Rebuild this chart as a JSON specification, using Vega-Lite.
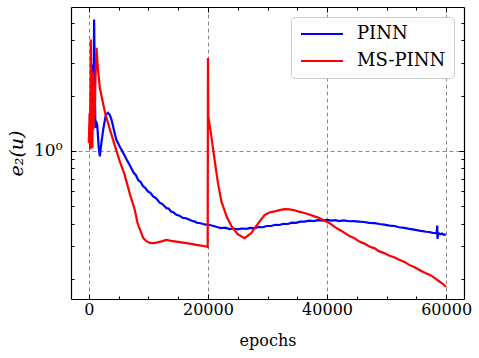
{
  "$schema": "https://vega.github.io/schema/vega-lite/v6.json",
  "width": 393,
  "height": 292,
  "autosize": "none",
  "padding": {"left": 71, "top": 7, "right": 15, "bottom": 59},
  "background": "white",
  "config": {
    "view": {"stroke": null},
    "font": "DejaVu Serif",
    "axis": {
      "domainColor": "black",
      "domainWidth": 1.2,
      "tickColor": "black",
      "tickWidth": 1,
      "labelColor": "black",
      "titleColor": "black",
      "labelFont": "DejaVu Serif",
      "titleFont": "DejaVu Serif",
      "labelFontSize": 16,
      "titleFontSize": 16,
      "titleFontWeight": "normal",
      "grid": false
    },
    "legend": {"labelFont": "DejaVu Serif"}
  },
  "data": {
    "values": [
      {"epoch": 0, "err": 1.15, "model": "PINN"},
      {"epoch": 200, "err": 1.4, "model": "PINN"},
      {"epoch": 400, "err": 2.2, "model": "PINN"},
      {"epoch": 620, "err": 2.95, "model": "PINN"},
      {"epoch": 700, "err": 1.75, "model": "PINN"},
      {"epoch": 800, "err": 2.6, "model": "PINN"},
      {"epoch": 880, "err": 5.2, "model": "PINN"},
      {"epoch": 960, "err": 3.0, "model": "PINN"},
      {"epoch": 1100, "err": 1.33, "model": "PINN"},
      {"epoch": 1200, "err": 1.45, "model": "PINN"},
      {"epoch": 1290, "err": 1.42, "model": "PINN"},
      {"epoch": 1400, "err": 1.38, "model": "PINN"},
      {"epoch": 1460, "err": 1.3, "model": "PINN"},
      {"epoch": 1650, "err": 1.05, "model": "PINN"},
      {"epoch": 1840, "err": 0.93, "model": "PINN"},
      {"epoch": 2100, "err": 1.1, "model": "PINN"},
      {"epoch": 2400, "err": 1.3, "model": "PINN"},
      {"epoch": 2850, "err": 1.57, "model": "PINN"},
      {"epoch": 3200, "err": 1.61, "model": "PINN"},
      {"epoch": 3500, "err": 1.57, "model": "PINN"},
      {"epoch": 3800, "err": 1.48, "model": "PINN"},
      {"epoch": 4200, "err": 1.3, "model": "PINN"},
      {"epoch": 4600, "err": 1.15, "model": "PINN"},
      {"epoch": 5200, "err": 1.05, "model": "PINN"},
      {"epoch": 5750, "err": 0.975, "model": "PINN"},
      {"epoch": 6300, "err": 0.9, "model": "PINN"},
      {"epoch": 6900, "err": 0.83, "model": "PINN"},
      {"epoch": 7500, "err": 0.76, "model": "PINN"},
      {"epoch": 7900, "err": 0.735, "model": "PINN"},
      {"epoch": 8300, "err": 0.69, "model": "PINN"},
      {"epoch": 8700, "err": 0.675, "model": "PINN"},
      {"epoch": 9100, "err": 0.64, "model": "PINN"},
      {"epoch": 9500, "err": 0.625, "model": "PINN"},
      {"epoch": 9900, "err": 0.6, "model": "PINN"},
      {"epoch": 10300, "err": 0.59, "model": "PINN"},
      {"epoch": 10800, "err": 0.563, "model": "PINN"},
      {"epoch": 11300, "err": 0.55, "model": "PINN"},
      {"epoch": 11900, "err": 0.52, "model": "PINN"},
      {"epoch": 12400, "err": 0.51, "model": "PINN"},
      {"epoch": 13000, "err": 0.486, "model": "PINN"},
      {"epoch": 13400, "err": 0.483, "model": "PINN"},
      {"epoch": 13800, "err": 0.466, "model": "PINN"},
      {"epoch": 14200, "err": 0.462, "model": "PINN"},
      {"epoch": 14700, "err": 0.447, "model": "PINN"},
      {"epoch": 15200, "err": 0.442, "model": "PINN"},
      {"epoch": 15800, "err": 0.43, "model": "PINN"},
      {"epoch": 16300, "err": 0.428, "model": "PINN"},
      {"epoch": 16900, "err": 0.42, "model": "PINN"},
      {"epoch": 17400, "err": 0.413, "model": "PINN"},
      {"epoch": 17800, "err": 0.41, "model": "PINN"},
      {"epoch": 18200, "err": 0.404, "model": "PINN"},
      {"epoch": 18600, "err": 0.403, "model": "PINN"},
      {"epoch": 19200, "err": 0.398, "model": "PINN"},
      {"epoch": 19700, "err": 0.395, "model": "PINN"},
      {"epoch": 20300, "err": 0.393, "model": "PINN"},
      {"epoch": 20800, "err": 0.389, "model": "PINN"},
      {"epoch": 21500, "err": 0.383, "model": "PINN"},
      {"epoch": 22200, "err": 0.378, "model": "PINN"},
      {"epoch": 22900, "err": 0.38, "model": "PINN"},
      {"epoch": 23600, "err": 0.373, "model": "PINN"},
      {"epoch": 24300, "err": 0.376, "model": "PINN"},
      {"epoch": 25000, "err": 0.372, "model": "PINN"},
      {"epoch": 25700, "err": 0.376, "model": "PINN"},
      {"epoch": 26400, "err": 0.374, "model": "PINN"},
      {"epoch": 27100, "err": 0.379, "model": "PINN"},
      {"epoch": 27800, "err": 0.377, "model": "PINN"},
      {"epoch": 28500, "err": 0.383, "model": "PINN"},
      {"epoch": 29200, "err": 0.382, "model": "PINN"},
      {"epoch": 29900, "err": 0.388, "model": "PINN"},
      {"epoch": 30600, "err": 0.388, "model": "PINN"},
      {"epoch": 31300, "err": 0.394, "model": "PINN"},
      {"epoch": 32000, "err": 0.393, "model": "PINN"},
      {"epoch": 32700, "err": 0.399, "model": "PINN"},
      {"epoch": 33400, "err": 0.398, "model": "PINN"},
      {"epoch": 34100, "err": 0.405, "model": "PINN"},
      {"epoch": 34800, "err": 0.404, "model": "PINN"},
      {"epoch": 35500, "err": 0.41, "model": "PINN"},
      {"epoch": 36200, "err": 0.41, "model": "PINN"},
      {"epoch": 37000, "err": 0.415, "model": "PINN"},
      {"epoch": 37700, "err": 0.413, "model": "PINN"},
      {"epoch": 38500, "err": 0.418, "model": "PINN"},
      {"epoch": 39300, "err": 0.415, "model": "PINN"},
      {"epoch": 40000, "err": 0.419, "model": "PINN"},
      {"epoch": 40700, "err": 0.415, "model": "PINN"},
      {"epoch": 41400, "err": 0.418, "model": "PINN"},
      {"epoch": 42000, "err": 0.413, "model": "PINN"},
      {"epoch": 42800, "err": 0.416, "model": "PINN"},
      {"epoch": 43700, "err": 0.412, "model": "PINN"},
      {"epoch": 44500, "err": 0.413, "model": "PINN"},
      {"epoch": 45400, "err": 0.41, "model": "PINN"},
      {"epoch": 46200, "err": 0.408, "model": "PINN"},
      {"epoch": 47100, "err": 0.404, "model": "PINN"},
      {"epoch": 48000, "err": 0.402, "model": "PINN"},
      {"epoch": 48800, "err": 0.398, "model": "PINN"},
      {"epoch": 49600, "err": 0.395, "model": "PINN"},
      {"epoch": 50500, "err": 0.39, "model": "PINN"},
      {"epoch": 51300, "err": 0.388, "model": "PINN"},
      {"epoch": 52100, "err": 0.382, "model": "PINN"},
      {"epoch": 53000, "err": 0.379, "model": "PINN"},
      {"epoch": 53800, "err": 0.374, "model": "PINN"},
      {"epoch": 54600, "err": 0.371, "model": "PINN"},
      {"epoch": 55500, "err": 0.366, "model": "PINN"},
      {"epoch": 56100, "err": 0.364, "model": "PINN"},
      {"epoch": 56600, "err": 0.361, "model": "PINN"},
      {"epoch": 57200, "err": 0.36, "model": "PINN"},
      {"epoch": 57700, "err": 0.356, "model": "PINN"},
      {"epoch": 58400, "err": 0.355, "model": "PINN"},
      {"epoch": 58500, "err": 0.39, "model": "PINN"},
      {"epoch": 58560, "err": 0.33, "model": "PINN"},
      {"epoch": 58650, "err": 0.356, "model": "PINN"},
      {"epoch": 59000, "err": 0.35, "model": "PINN"},
      {"epoch": 59300, "err": 0.353, "model": "PINN"},
      {"epoch": 59600, "err": 0.347, "model": "PINN"},
      {"epoch": 59950, "err": 0.349, "model": "PINN"},
      {"epoch": 0, "err": 1.1, "model": "MS-PINN"},
      {"epoch": 120, "err": 1.6, "model": "MS-PINN"},
      {"epoch": 220, "err": 1.02, "model": "MS-PINN"},
      {"epoch": 335, "err": 4.05, "model": "MS-PINN"},
      {"epoch": 420, "err": 1.15, "model": "MS-PINN"},
      {"epoch": 500, "err": 2.3, "model": "MS-PINN"},
      {"epoch": 590, "err": 1.03, "model": "MS-PINN"},
      {"epoch": 680, "err": 2.7, "model": "MS-PINN"},
      {"epoch": 770, "err": 1.3, "model": "MS-PINN"},
      {"epoch": 860, "err": 2.1, "model": "MS-PINN"},
      {"epoch": 960, "err": 1.5, "model": "MS-PINN"},
      {"epoch": 1100, "err": 2.4, "model": "MS-PINN"},
      {"epoch": 1290, "err": 3.65, "model": "MS-PINN"},
      {"epoch": 1500, "err": 2.85, "model": "MS-PINN"},
      {"epoch": 1844, "err": 2.2, "model": "MS-PINN"},
      {"epoch": 2700, "err": 1.62, "model": "MS-PINN"},
      {"epoch": 3520, "err": 1.31, "model": "MS-PINN"},
      {"epoch": 4350, "err": 1.07, "model": "MS-PINN"},
      {"epoch": 5196, "err": 0.875, "model": "MS-PINN"},
      {"epoch": 6000, "err": 0.74, "model": "MS-PINN"},
      {"epoch": 6870, "err": 0.583, "model": "MS-PINN"},
      {"epoch": 7710, "err": 0.476, "model": "MS-PINN"},
      {"epoch": 8162, "err": 0.404, "model": "MS-PINN"},
      {"epoch": 8600, "err": 0.37, "model": "MS-PINN"},
      {"epoch": 9101, "err": 0.335, "model": "MS-PINN"},
      {"epoch": 9600, "err": 0.322, "model": "MS-PINN"},
      {"epoch": 10224, "err": 0.314, "model": "MS-PINN"},
      {"epoch": 10800, "err": 0.313, "model": "MS-PINN"},
      {"epoch": 11347, "err": 0.315, "model": "MS-PINN"},
      {"epoch": 12200, "err": 0.32, "model": "MS-PINN"},
      {"epoch": 13023, "err": 0.326, "model": "MS-PINN"},
      {"epoch": 13800, "err": 0.322, "model": "MS-PINN"},
      {"epoch": 14699, "err": 0.319, "model": "MS-PINN"},
      {"epoch": 15500, "err": 0.316, "model": "MS-PINN"},
      {"epoch": 16375, "err": 0.313, "model": "MS-PINN"},
      {"epoch": 17200, "err": 0.31, "model": "MS-PINN"},
      {"epoch": 18051, "err": 0.306, "model": "MS-PINN"},
      {"epoch": 18900, "err": 0.303, "model": "MS-PINN"},
      {"epoch": 19727, "err": 0.3, "model": "MS-PINN"},
      {"epoch": 19950, "err": 0.298, "model": "MS-PINN"},
      {"epoch": 20000, "err": 3.21, "model": "MS-PINN"},
      {"epoch": 20060, "err": 1.54, "model": "MS-PINN"},
      {"epoch": 20564, "err": 1.2, "model": "MS-PINN"},
      {"epoch": 21100, "err": 0.9, "model": "MS-PINN"},
      {"epoch": 21700, "err": 0.66, "model": "MS-PINN"},
      {"epoch": 22250, "err": 0.53, "model": "MS-PINN"},
      {"epoch": 23100, "err": 0.44, "model": "MS-PINN"},
      {"epoch": 24000, "err": 0.385, "model": "MS-PINN"},
      {"epoch": 25000, "err": 0.35, "model": "MS-PINN"},
      {"epoch": 26150, "err": 0.333, "model": "MS-PINN"},
      {"epoch": 27270, "err": 0.355, "model": "MS-PINN"},
      {"epoch": 28400, "err": 0.4, "model": "MS-PINN"},
      {"epoch": 29500, "err": 0.445, "model": "MS-PINN"},
      {"epoch": 30300, "err": 0.46, "model": "MS-PINN"},
      {"epoch": 31200, "err": 0.466, "model": "MS-PINN"},
      {"epoch": 32000, "err": 0.474, "model": "MS-PINN"},
      {"epoch": 32850, "err": 0.48, "model": "MS-PINN"},
      {"epoch": 33700, "err": 0.478, "model": "MS-PINN"},
      {"epoch": 34500, "err": 0.473, "model": "MS-PINN"},
      {"epoch": 35300, "err": 0.465, "model": "MS-PINN"},
      {"epoch": 36200, "err": 0.457, "model": "MS-PINN"},
      {"epoch": 37000, "err": 0.448, "model": "MS-PINN"},
      {"epoch": 37900, "err": 0.438, "model": "MS-PINN"},
      {"epoch": 38716, "err": 0.429, "model": "MS-PINN"},
      {"epoch": 39270, "err": 0.42, "model": "MS-PINN"},
      {"epoch": 40392, "err": 0.403, "model": "MS-PINN"},
      {"epoch": 41200, "err": 0.385, "model": "MS-PINN"},
      {"epoch": 42068, "err": 0.37, "model": "MS-PINN"},
      {"epoch": 42900, "err": 0.357, "model": "MS-PINN"},
      {"epoch": 43700, "err": 0.343, "model": "MS-PINN"},
      {"epoch": 44600, "err": 0.333, "model": "MS-PINN"},
      {"epoch": 45420, "err": 0.319, "model": "MS-PINN"},
      {"epoch": 46300, "err": 0.311, "model": "MS-PINN"},
      {"epoch": 47100, "err": 0.3, "model": "MS-PINN"},
      {"epoch": 48000, "err": 0.293, "model": "MS-PINN"},
      {"epoch": 48772, "err": 0.282, "model": "MS-PINN"},
      {"epoch": 49600, "err": 0.276, "model": "MS-PINN"},
      {"epoch": 50400, "err": 0.268, "model": "MS-PINN"},
      {"epoch": 51300, "err": 0.262, "model": "MS-PINN"},
      {"epoch": 52124, "err": 0.254, "model": "MS-PINN"},
      {"epoch": 53000, "err": 0.247, "model": "MS-PINN"},
      {"epoch": 53800, "err": 0.238, "model": "MS-PINN"},
      {"epoch": 54600, "err": 0.232, "model": "MS-PINN"},
      {"epoch": 55476, "err": 0.224, "model": "MS-PINN"},
      {"epoch": 56000, "err": 0.219, "model": "MS-PINN"},
      {"epoch": 56600, "err": 0.214, "model": "MS-PINN"},
      {"epoch": 57200, "err": 0.21, "model": "MS-PINN"},
      {"epoch": 57706, "err": 0.206, "model": "MS-PINN"},
      {"epoch": 58200, "err": 0.2, "model": "MS-PINN"},
      {"epoch": 58700, "err": 0.195, "model": "MS-PINN"},
      {"epoch": 59200, "err": 0.19, "model": "MS-PINN"},
      {"epoch": 59666, "err": 0.185, "model": "MS-PINN"},
      {"epoch": 59950, "err": 0.18, "model": "MS-PINN"}
    ]
  },
  "layer": [
    {
      "mark": {"type": "line", "strokeWidth": 2.2, "clip": true},
      "encoding": {
        "x": {
          "field": "epoch", "type": "quantitative",
          "scale": {"domain": [-3000, 63000], "nice": false, "zero": false},
          "axis": {
            "orient": "bottom", "values": [0, 20000, 40000, 60000], "format": "d",
            "grid": true, "gridDash": [4, 3], "gridColor": "#8a8a8a", "gridWidth": 1,
            "tickSize": -5, "labelPadding": 7, "title": "epochs", "titlePadding": 15
          }
        },
        "y": {
          "field": "err", "type": "quantitative",
          "scale": {"type": "log", "domain": [0.155, 6.09], "nice": false},
          "axis": {
            "orient": "left", "values": [1], "labelExpr": "'10⁰'",
            "grid": true, "gridDash": [4, 3], "gridColor": "#8a8a8a", "gridWidth": 1,
            "tickSize": -5, "labelPadding": 14, "labelFontSize": 17, "title": "e₂(u)", "titleFontStyle": "italic",
            "titleFontSize": 19, "titleX": -45, "titleY": 146
          }
        },
        "color": {
          "field": "model", "type": "nominal",
          "scale": {"domain": ["PINN", "MS-PINN"], "range": ["#0000ff", "#ff0000"]},
          "legend": {
            "title": null, "orient": "top-right", "offset": 10,
            "fillColor": "white", "strokeColor": "#cccccc", "cornerRadius": 4, "padding": 8,
            "symbolType": "M-3,0H3", "symbolSize": 196, "symbolStrokeWidth": 2,
            "symbolOffset": 14,
            "labelFontSize": 18, "labelColor": "black",
            "labelOffset": 26, "rowPadding": 9
          }
        }
      }
    },
    {
      "mark": {"type": "point", "opacity": 0},
      "encoding": {
        "x": {
          "field": "epoch", "type": "quantitative",
          "axis": {
            "orient": "bottom", "values": [5000, 10000, 15000, 25000, 30000, 35000, 45000, 50000, 55000],
            "labels": false, "tickSize": -3, "domain": false, "title": null
          }
        },
        "y": {
          "field": "err", "type": "quantitative",
          "axis": {
            "orient": "left", "values": [0.2, 0.3, 0.4, 0.5, 0.6, 0.7, 0.8, 0.9, 2, 3, 4, 5],
            "labels": false, "tickSize": -3, "domain": false, "title": null
          }
        }
      }
    },
    {
      "mark": {"type": "point", "opacity": 0},
      "encoding": {
        "x": {
          "field": "epoch", "type": "quantitative",
          "axis": {"orient": "top", "values": [0, 20000, 40000, 60000], "labels": false, "tickSize": -5, "title": null}
        },
        "y": {
          "field": "err", "type": "quantitative",
          "axis": {"orient": "right", "values": [1], "labels": false, "tickSize": -5, "title": null}
        }
      }
    },
    {
      "mark": {"type": "point", "opacity": 0},
      "encoding": {
        "x": {
          "field": "epoch", "type": "quantitative",
          "axis": {
            "orient": "top", "values": [5000, 10000, 15000, 25000, 30000, 35000, 45000, 50000, 55000],
            "labels": false, "tickSize": -3, "domain": false, "title": null
          }
        },
        "y": {
          "field": "err", "type": "quantitative",
          "axis": {
            "orient": "right", "values": [0.2, 0.3, 0.4, 0.5, 0.6, 0.7, 0.8, 0.9, 2, 3, 4, 5],
            "labels": false, "tickSize": -3, "domain": false, "title": null
          }
        }
      }
    }
  ],
  "resolve": {"axis": {"x": "independent", "y": "independent"}}
}
